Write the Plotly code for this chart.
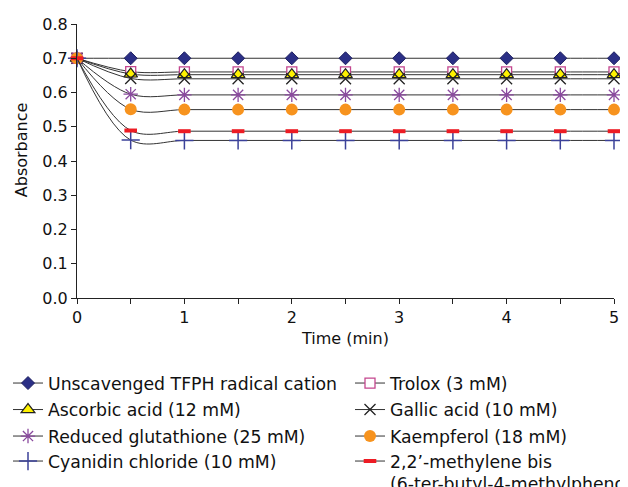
import plotly.graph_objects as go

time_min = [0, 0.5, 1, 1.5, 2, 2.5, 3, 3.5, 4, 4.5, 5]

unscavenged = [0.700, 0.700, 0.700, 0.700, 0.700, 0.700, 0.700, 0.700, 0.700, 0.700, 0.700]
trolox = [0.700, 0.661, 0.660, 0.660, 0.660, 0.660, 0.660, 0.660, 0.660, 0.660, 0.660]
ascorbic = [0.700, 0.654, 0.652, 0.652, 0.652, 0.652, 0.652, 0.652, 0.652, 0.652, 0.652]
gallic = [0.700, 0.641, 0.640, 0.640, 0.640, 0.640, 0.640, 0.640, 0.640, 0.640, 0.640]
glutathione = [0.700, 0.595, 0.593, 0.593, 0.593, 0.593, 0.593, 0.593, 0.593, 0.593, 0.593]
kaempferol = [0.700, 0.551, 0.550, 0.550, 0.550, 0.550, 0.550, 0.550, 0.550, 0.550, 0.550]
methylene = [0.700, 0.489, 0.487, 0.487, 0.487, 0.487, 0.487, 0.487, 0.487, 0.487, 0.487]
cyanidin = [0.700, 0.461, 0.460, 0.460, 0.460, 0.460, 0.460, 0.460, 0.460, 0.460, 0.460]

names = [
    "Unscavenged TFPH radical cation",
    "Trolox (3 mM)",
    "Ascorbic acid (12 mM)",
    "Gallic acid (10 mM)",
    "Reduced glutathione (25 mM)",
    "Kaempferol (18 mM)",
    "Cyanidin chloride (10 mM)",
    "2,2\u2019-methylene bis<br>(6-ter-butyl-4-methylphenol)",
]
series = [unscavenged, trolox, ascorbic, gallic, glutathione, kaempferol, cyanidin, methylene]

x_title = "Time (min)"
y_title = "Absorbance"

markers = [
    dict(symbol="diamond", size=10, color="#2B2F86", line=dict(color="#1E2060", width=1)),
    dict(symbol="square", size=10, color="white", line=dict(color="#C4468E", width=1.3)),
    dict(symbol="triangle-up", size=12, color="#FFF200", line=dict(color="#222222", width=1.2)),
    dict(symbol="x-thin", size=11, color="#222222", line=dict(color="#222222", width=1.3)),
    dict(symbol="asterisk", size=12, color="#8A4A9E", line=dict(color="#8A4A9E", width=1.3)),
    dict(symbol="circle", size=12, color="#F7931E", line=dict(color="#F7931E", width=0)),
    dict(symbol="cross-thin", size=13, color="#3B4199", line=dict(color="#3B4199", width=1.5)),
    dict(symbol="line-ew", size=9, color="#ED1C24", line=dict(color="#ED1C24", width=4)),
]

# The page body adds an 8px offset, so the figure is 620x479 and placed at (8, 8).
W, H = 620, 479
OFF = 8

# legend placement in window pixels (column x start, row center)
leg_pos = [
    (8, 383), (350, 383),
    (8, 409.5), (350, 409.5),
    (8, 436), (350, 436),
    (8, 461), (350, 461),
]

FONT = "DejaVu Sans, Liberation Sans, Arial, sans-serif"

fig = go.Figure()
layout_legends = {}
for i, (nm, ys, mk) in enumerate(zip(names, series, markers)):
    key = "legend" if i == 0 else f"legend{i+1}"
    fig.add_trace(go.Scatter(
        x=time_min, y=ys, name=nm, mode="lines+markers",
        line=dict(color="#333333", width=1, shape="spline", smoothing=1),
        marker=mk, cliponaxis=False, legend=key,
    ))
    lx, ly = leg_pos[i]
    layout_legends[key] = dict(
        x=(lx - OFF) / W, y=1 - (ly - OFF - 17.7) / H, xref="container", yref="container",
        xanchor="left", yanchor="top", orientation="v", valign="top",
        font=dict(family=FONT, size=17.3, color="#111111"),
        bgcolor="rgba(0,0,0,0)", itemwidth=30,
    )

fig.update_layout(
    width=W, height=H,
    margin=dict(l=77 - OFF, r=14, t=24 - OFF, b=189, autoexpand=False),
    plot_bgcolor="white", paper_bgcolor="white",
    font=dict(family=FONT, color="#111111"),
    showlegend=True,
    **layout_legends,
)
fig.update_xaxes(
    range=[0, 5], tickvals=[0, 1, 2, 3, 4, 5], ticktext=["0", "1", "2", "3", "4", "5"],
    ticks="outside", ticklen=5, tickcolor="#222", showline=True, linecolor="#222", linewidth=1,
    showgrid=False, zeroline=False, tickfont=dict(size=16),
    minor=dict(tickvals=[0.5, 1.5, 2.5, 3.5, 4.5], ticks="outside", ticklen=5, tickcolor="#222"),
    title=dict(text=x_title, font=dict(size=16), standoff=6),
)
fig.update_yaxes(
    range=[0, 0.8], dtick=0.1, tickformat=".1f",
    ticks="outside", ticklen=5, tickcolor="#222", showline=True, linecolor="#222", linewidth=1,
    showgrid=False, zeroline=False, tickfont=dict(size=16),
)
# y-axis title as a rotated annotation to the left of the tick labels
fig.add_annotation(
    text=y_title, textangle=-90, showarrow=False,
    xref="paper", yref="paper", x=-0.104, y=0.54,
    xanchor="center", yanchor="middle",
    font=dict(family=FONT, size=16, color="#111111"),
)

fig.write_html("out.html", config={"displayModeBar": False})
